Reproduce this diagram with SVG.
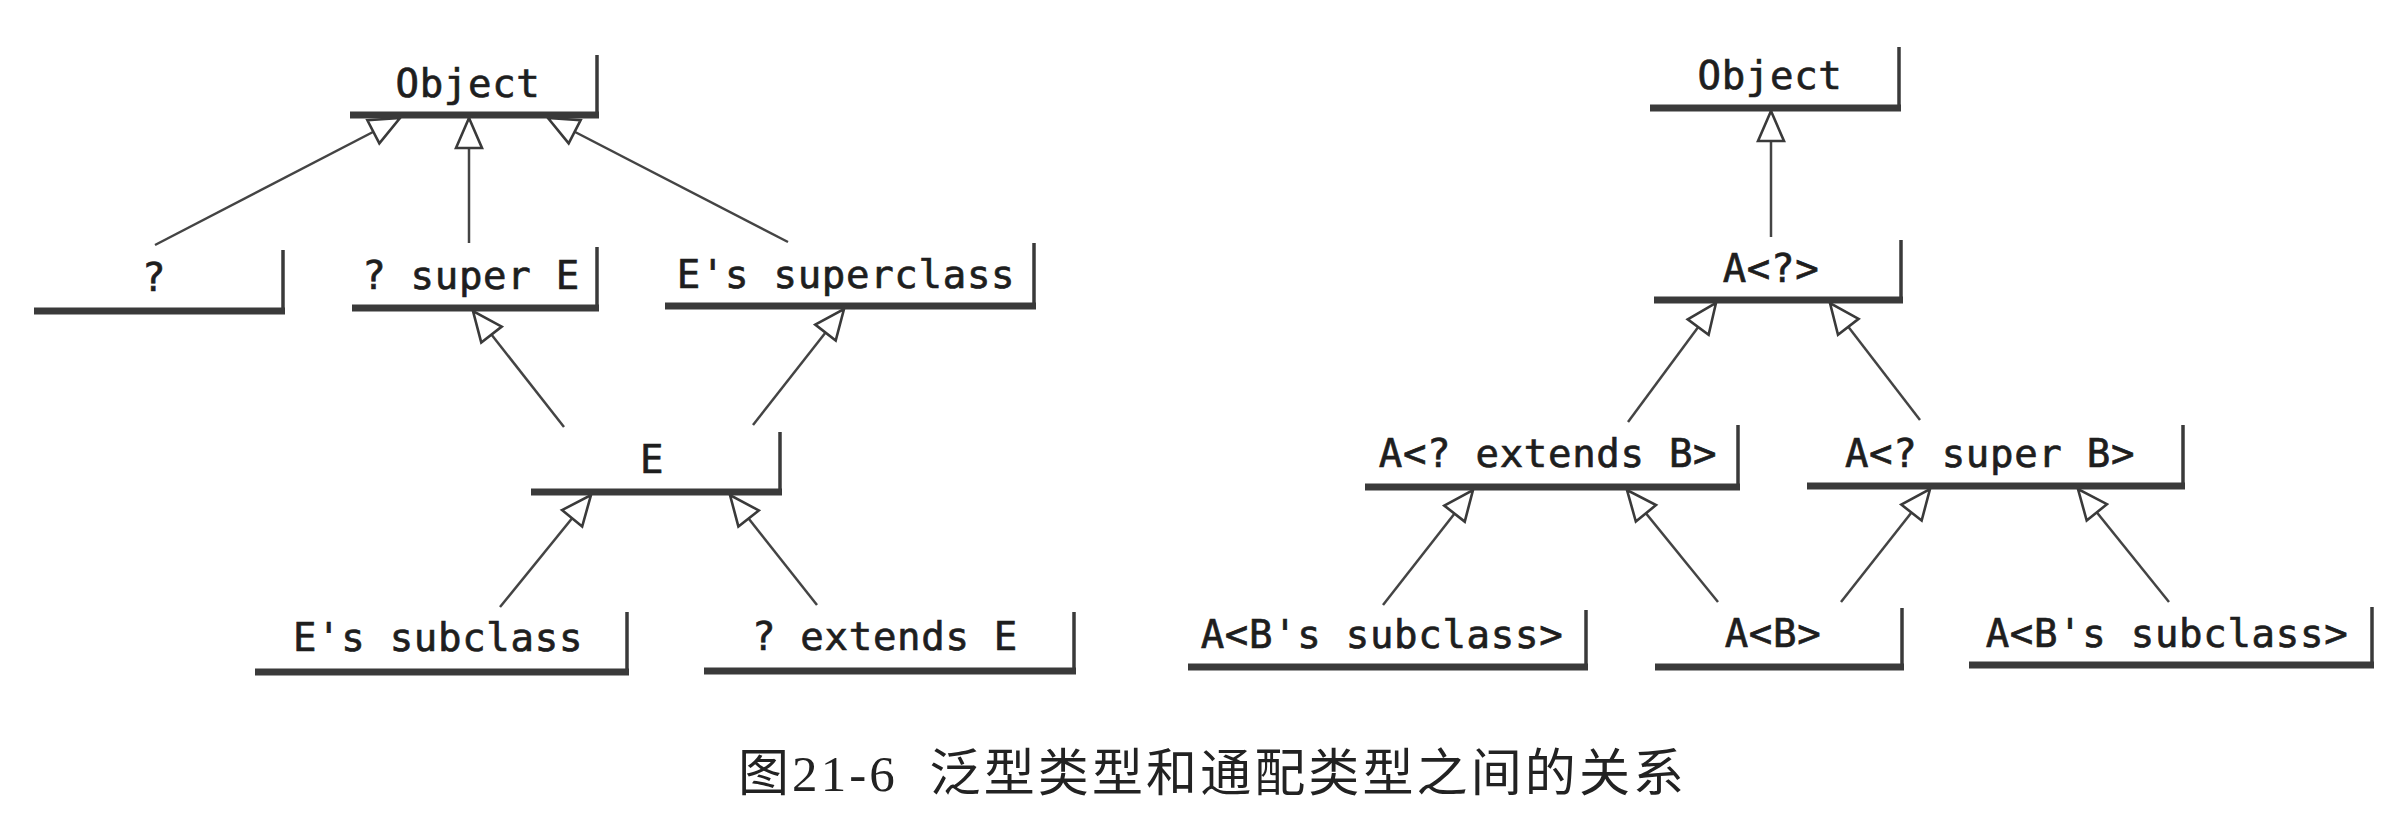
<svg xmlns="http://www.w3.org/2000/svg" width="2402" height="822" viewBox="0 0 2402 822">
  <style>
    .bar { stroke: #3a3a3a; stroke-width: 7; fill: none; }
    .side { stroke: #3a3a3a; stroke-width: 3.5; fill: none; }
    .lbl { font-family: "DejaVu Sans Mono", "Liberation Mono", monospace; font-size: 39px; letter-spacing: 0.7px; fill: #1e1e1e; stroke: #1e1e1e; stroke-width: 0.7; text-anchor: middle; }
    .edge { stroke: #444; stroke-width: 2.5; fill: none; marker-end: url(#tri); }
    .cap { font-family: "Liberation Serif", "Noto Sans CJK SC", serif; font-size: 51px; fill: #222; }
  </style>
  <defs>
    <marker id="tri" markerUnits="userSpaceOnUse" markerWidth="36" markerHeight="32" refX="31" refY="14" orient="auto" overflow="visible">
      <path d="M1,1 L31,14 L1,27 Z" fill="#fff" stroke="#3a3a3a" stroke-width="2.6" stroke-linejoin="miter"/>
    </marker>
  </defs>
  <rect width="2402" height="822" fill="#fff"/>

  <g id="connectors">
    <path class="edge" d="M155,245 L400,118"/>
    <path class="edge" d="M469,243 L469,118"/>
    <path class="edge" d="M788,242 L548,118"/>
    <path class="edge" d="M564,427 L473,311"/>
    <path class="edge" d="M753,425 L844,309"/>
    <path class="edge" d="M500,607 L591,495"/>
    <path class="edge" d="M817,605 L730,495"/>

    <path class="edge" d="M1771,237 L1771,111"/>
    <path class="edge" d="M1628,422 L1716,303"/>
    <path class="edge" d="M1920,420 L1830,303"/>
    <path class="edge" d="M1383,605 L1473,490"/>
    <path class="edge" d="M1718,602 L1627,490"/>
    <path class="edge" d="M1841,602 L1930,489"/>
    <path class="edge" d="M2169,602 L2078,489"/>
  </g>

  <g id="L-Object">
    <line class="bar" x1="350" y1="115" x2="599" y2="115"/>
    <line class="side" x1="597" y1="55" x2="597" y2="115"/>
    <text class="lbl" x="468" y="97">Object</text>
  </g>
  <g id="L-wildcard">
    <line class="bar" x1="34" y1="311" x2="285" y2="311"/>
    <line class="side" x1="283" y1="250" x2="283" y2="311"/>
    <text class="lbl" x="154" y="291">?</text>
  </g>
  <g id="L-superE">
    <line class="bar" x1="352" y1="308" x2="599" y2="308"/>
    <line class="side" x1="597" y1="247" x2="597" y2="308"/>
    <text class="lbl" x="471" y="289">? super E</text>
  </g>
  <g id="L-Esuperclass">
    <line class="bar" x1="665" y1="306" x2="1036" y2="306"/>
    <line class="side" x1="1034" y1="243" x2="1034" y2="306"/>
    <text class="lbl" x="846" y="288">E's superclass</text>
  </g>
  <g id="L-E">
    <line class="bar" x1="531" y1="492" x2="782" y2="492"/>
    <line class="side" x1="780" y1="432" x2="780" y2="492"/>
    <text class="lbl" x="652" y="473">E</text>
  </g>
  <g id="L-Esubclass">
    <line class="bar" x1="255" y1="672" x2="629" y2="672"/>
    <line class="side" x1="627" y1="612" x2="627" y2="672"/>
    <text class="lbl" x="438" y="651">E's subclass</text>
  </g>
  <g id="L-extendsE">
    <line class="bar" x1="704" y1="671" x2="1076" y2="671"/>
    <line class="side" x1="1074" y1="612" x2="1074" y2="671"/>
    <text class="lbl" x="885" y="650">? extends E</text>
  </g>

  <g id="R-Object">
    <line class="bar" x1="1650" y1="108" x2="1901" y2="108"/>
    <line class="side" x1="1899" y1="47" x2="1899" y2="108"/>
    <text class="lbl" x="1770" y="89">Object</text>
  </g>
  <g id="R-Aq">
    <line class="bar" x1="1654" y1="300" x2="1903" y2="300"/>
    <line class="side" x1="1901" y1="240" x2="1901" y2="300"/>
    <text class="lbl" x="1771" y="282">A&lt;?&gt;</text>
  </g>
  <g id="R-AextendsB">
    <line class="bar" x1="1365" y1="487" x2="1740" y2="487"/>
    <line class="side" x1="1738" y1="425" x2="1738" y2="487"/>
    <text class="lbl" x="1548" y="467">A&lt;? extends B&gt;</text>
  </g>
  <g id="R-AsuperB">
    <line class="bar" x1="1807" y1="486" x2="2185" y2="486"/>
    <line class="side" x1="2183" y1="425" x2="2183" y2="486"/>
    <text class="lbl" x="1990" y="467">A&lt;? super B&gt;</text>
  </g>
  <g id="R-ABsub-left">
    <line class="bar" x1="1188" y1="667" x2="1588" y2="667"/>
    <line class="side" x1="1586" y1="610" x2="1586" y2="667"/>
    <text class="lbl" x="1382" y="648">A&lt;B's subclass&gt;</text>
  </g>
  <g id="R-AB">
    <line class="bar" x1="1655" y1="667" x2="1904" y2="667"/>
    <line class="side" x1="1902" y1="608" x2="1902" y2="667"/>
    <text class="lbl" x="1773" y="647">A&lt;B&gt;</text>
  </g>
  <g id="R-ABsub-right">
    <line class="bar" x1="1969" y1="665" x2="2374" y2="665"/>
    <line class="side" x1="2372" y1="607" x2="2372" y2="665"/>
    <text class="lbl" x="2167" y="647">A&lt;B's subclass&gt;</text>
  </g>

  <text class="cap" x="738" y="791" textLength="946" lengthAdjust="spacing">图21-6&#160;&#160;泛型类型和通配类型之间的关系</text>
</svg>
